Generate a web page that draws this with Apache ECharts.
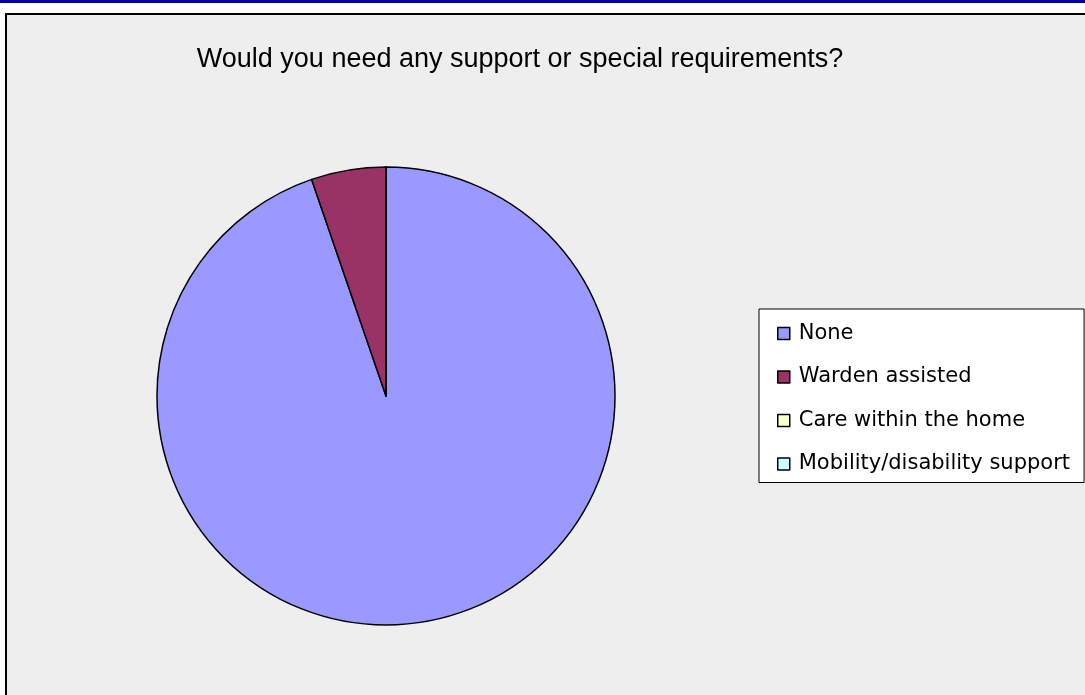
<!DOCTYPE html>
<html>
<head>
<meta charset="utf-8">
<script src="https://cdn.jsdelivr.net/npm/echarts@6/dist/echarts.min.js"></script>
<style>
  html, body { margin: 0; padding: 0; background: #ffffff; }
  #chart { width: 1085px; height: 695px; }
</style>
</head>
<body>
<div id="chart"></div>
<script>
// Survey answers: number of respondents per support option
const categories = ['None', 'Warden assisted', 'Care within the home', 'Mobility/disability support'];
const responses = [18, 1, 0, 0];
const sliceColors = ['#9999FF', '#993366', '#FFFFCC', '#CCFFFF'];
const titleText = 'Would you need any support or special requirements?';

const chart = echarts.init(document.getElementById('chart'), null, { renderer: 'canvas' });

const option = {
  animation: false,
  backgroundColor: '#ffffff',
  graphic: [
    // navy strip along the top
    { type: 'rect', shape: { x: 0, y: 0, width: 1085, height: 3 }, style: { fill: '#000099' }, silent: true, z: -10 },
    // grey chart panel with dark frame on top and left
    { type: 'rect', shape: { x: 6, y: 14, width: 1100, height: 700 }, style: { fill: '#eeeeee', stroke: '#000000', lineWidth: 2 }, silent: true, z: -10 }
  ],
  title: {
    text: titleText,
    left: 515,
    textAlign: 'center',
    top: 41,
    textStyle: {
      fontFamily: 'Liberation Sans, Arial, sans-serif',
      fontSize: 27,
      fontWeight: 'normal',
      color: '#000000'
    }
  },
  legend: {
    orient: 'vertical',
    left: 759,
    top: 309,
    padding: [14, 14, 8, 18],
    itemGap: 22.5,
    itemWidth: 12,
    itemHeight: 12,
    icon: 'rect',
    backgroundColor: '#ffffff',
    borderColor: '#000000',
    borderWidth: 1,
    data: categories,
    itemStyle: { borderColor: '#000000', borderWidth: 1.5 },
    textStyle: {
      fontFamily: 'DejaVu Sans, sans-serif',
      fontSize: 21,
      color: '#000000',
      padding: [0, 0, 0, 4]
    }
  },
  series: [{
    type: 'pie',
    center: [386, 396],
    radius: 229,
    startAngle: 90,
    clockwise: true,
    label: { show: false },
    labelLine: { show: false },
    emphasis: { disabled: true },
    itemStyle: { borderColor: '#000000', borderWidth: 1.5 },
    data: categories.map((name, i) => ({
      name: name,
      value: responses[i],
      itemStyle: { color: sliceColors[i] }
    }))
  }]
};

chart.setOption(option);
</script>
</body>
</html>
